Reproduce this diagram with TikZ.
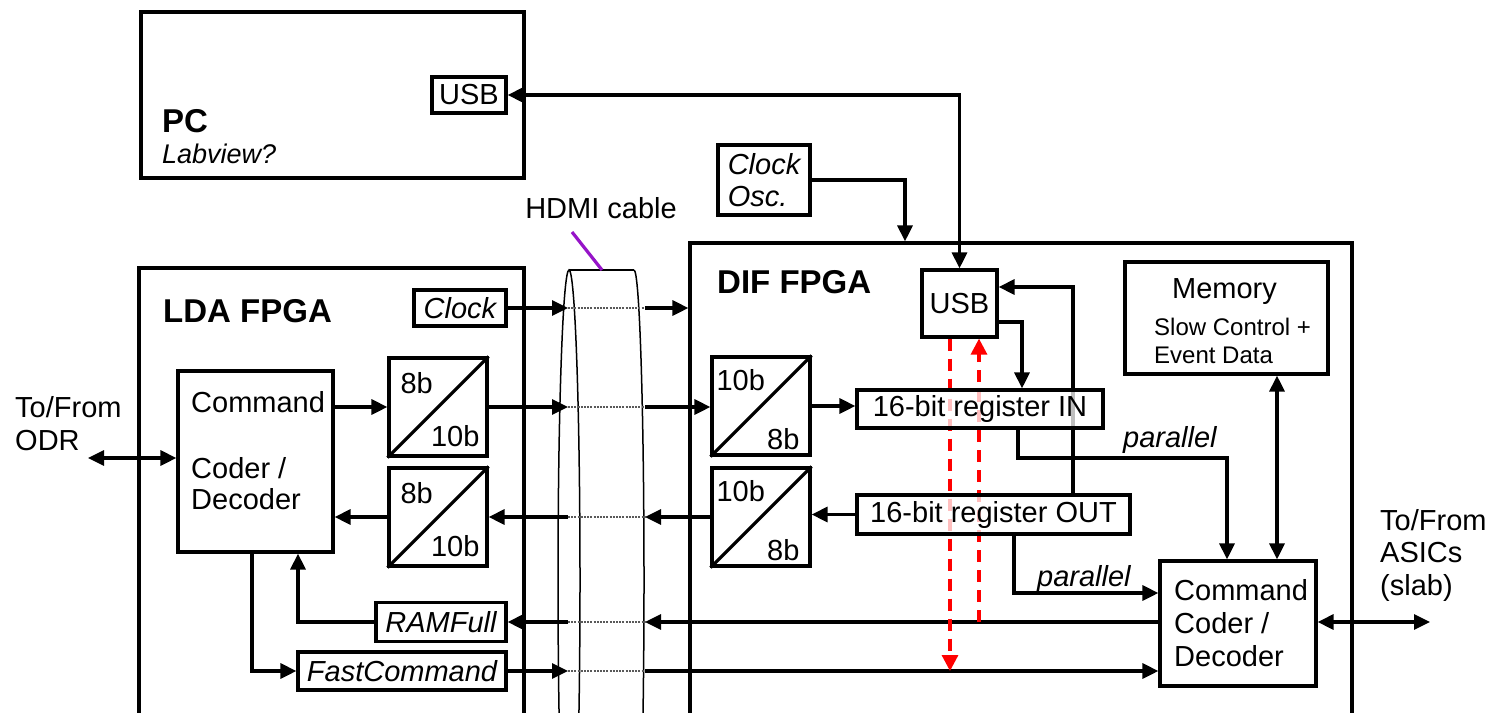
\documentclass[tikz,border=0pt]{standalone}
\usepackage{fontspec}
\setmainfont{Liberation Sans}
\usetikzlibrary{arrows.meta}
\pgfdeclarelayer{bg}
\pgfsetlayers{bg,main}
\definecolor{hdmi}{RGB}{150,20,200}
\begin{document}
\begin{tikzpicture}[x=1pt,y=-1pt,
  every node/.style={inner sep=0pt},
  txt/.style={font=\fontsize{29}{32}\selectfont},
  itx/.style={font=\fontsize{29}{32}\selectfont\itshape},
  hd/.style={font=\fontsize{33}{36}\selectfont\bfseries},
  sm/.style={font=\fontsize{24}{28}\selectfont},
  bigframe/.style={draw, line width=3.2pt},
  blk/.style={draw, line width=3.2pt, fill=white, fill opacity=0.75, text opacity=1, draw opacity=1, txt},
  wln/.style={line width=3.2pt},
  arr/.style={wln, -{Triangle[length=16pt,width=15pt]}},
  darr/.style={wln, {Triangle[length=16pt,width=15pt]}-{Triangle[length=16pt,width=15pt]}},
  dotln/.style={line width=2.2pt, black!65, dash pattern=on 2pt off 1.2pt},
  cabln/.style={line width=1.5pt},
  reddash/.style={line width=3.2pt, red, dash pattern=on 12pt off 8pt, -{Triangle[length=16pt,width=16pt]}},
]
\useasboundingbox (0,0) rectangle (1490,712);
\clip (0,0) rectangle (1490,712);

% ---- frames
\node[bigframe, minimum width=383pt, minimum height=166pt] (pc) at (332.5,95) {};
\node[bigframe, minimum width=385pt, minimum height=492pt] (lda) at (331.5,514) {};
\node[bigframe, minimum width=662pt, minimum height=517pt] (dif) at (1021,501.5) {};

% ---- boxes
\node[blk, minimum width=74pt, minimum height=36pt] (pcusb) at (469,95) {USB};
\node[blk, itx, align=left, minimum width=92pt, minimum height=70pt] (osc) at (764,180) {Clock\\Osc.};
\node[blk, itx, minimum width=92pt, minimum height=36pt] (clkL) at (460,308) {Clock};
\node[blk, minimum width=155pt, minimum height=181pt] (cmdL) at (255.5,461.5) {};
\node[blk, minimum width=98pt, minimum height=98pt] (b1L) at (438,407) {};
\node[blk, minimum width=98pt, minimum height=98pt] (b2L) at (438,517) {};
\node[blk, minimum width=98pt, minimum height=98pt] (b1D) at (761,406) {};
\node[blk, minimum width=98pt, minimum height=98pt] (b2D) at (761,517) {};
\node[blk, minimum width=246pt, minimum height=38pt] (regin) at (980,409) {16-bit register IN};
\node[blk, minimum width=273pt, minimum height=39pt] (regout) at (993.5,514.5) {16-bit register OUT};
\node[blk, minimum width=75pt, minimum height=67pt] (usbD) at (959.5,303.5) {USB};
\node[blk, minimum width=203pt, minimum height=112pt] (mem) at (1226.5,318) {};
\node[blk, minimum width=156pt, minimum height=125pt] (cmdD) at (1238,623.5) {};
\node[blk, itx, minimum width=130pt, minimum height=39pt] (ram) at (441,622) {RAMFull};
\node[blk, itx, minimum width=208pt, minimum height=38pt] (fast) at (402,671) {FastCommand};

% ---- converter diagonals and labels
\foreach \b in {b1L,b2L,b1D,b2D} {\draw[wln] (\b.south west) -- (\b.north east);}
\node[txt, anchor=base west] (b1Lt) at ([xshift=13pt,yshift=-37pt]b1L.north west) {8b};
\node[txt, anchor=base east] (b1Lb) at ([xshift=-9pt,yshift=11pt]b1L.south east) {10b};
\node[txt, anchor=base west] (b2Lt) at ([xshift=13pt,yshift=-37pt]b2L.north west) {8b};
\node[txt, anchor=base east] (b2Lb) at ([xshift=-9pt,yshift=11pt]b2L.south east) {10b};
\node[txt, anchor=base west] (b1Dt) at ([xshift=6pt,yshift=-35pt]b1D.north west) {10b};
\node[txt, anchor=base east] (b1Db) at ([xshift=-12pt,yshift=7pt]b1D.south east) {8b};
\node[txt, anchor=base west] (b2Dt) at ([xshift=6pt,yshift=-35pt]b2D.north west) {10b};
\node[txt, anchor=base east] (b2Db) at ([xshift=-12pt,yshift=7pt]b2D.south east) {8b};

% ---- texts
\node[hd, anchor=base west] (pct) at (162,132) {PC};
\node[itx, font=\fontsize{27}{30}\selectfont\itshape, anchor=base west] (labv) at (162,163) {Labview?};
\node[hd, anchor=base west] (ldat) at (163,322) {LDA FPGA};
\node[hd, anchor=base west] (dift) at (717,293) {DIF FPGA};
\node[txt, anchor=base] (hdmil) at (601,218) {HDMI cable};
\node[txt, anchor=base west] (cl1) at (191,412) {Command};
\node[txt, anchor=base west] (cl2) at (191,478) {Coder /};
\node[txt, anchor=base west] (cl3) at (191,509) {Decoder};
\node[txt, anchor=base west] (cd1) at (1174,600) {Command};
\node[txt, anchor=base west] (cd2) at (1174,633) {Coder /};
\node[txt, anchor=base west] (cd3) at (1174,666) {Decoder};
\node[txt, anchor=base] (mt1) at (1224.5,298) {Memory};
\node[sm, anchor=base west] (mt2) at (1154,335) {Slow Control +};
\node[sm, anchor=base west] (mt3) at (1154,363) {Event Data};
\node[txt, anchor=base west] (odr1) at (15,417) {To/From};
\node[txt, anchor=base west] (odr2) at (15,450) {ODR};
\node[txt, anchor=base west] (as1) at (1380,530) {To/From};
\node[txt, anchor=base west] (as2) at (1380,562) {ASICs};
\node[txt, anchor=base west] (as3) at (1380,595) {(slab)};
\node[itx, anchor=base west] (par1t) at (1123,447) {parallel};
\node[itx, anchor=base west] (par2t) at (1037,586) {parallel};

% ---- coordinates
\coordinate (cabL) at (568,0);
\coordinate (cabR) at (645,0);
\coordinate (odr) at (88,458);
\coordinate (asic) at (1430,622);
\coordinate (par1) at (1227,458);
\coordinate (fbT) at ([xshift=79.5pt]regout.north);
\coordinate (rdA) at ([xshift=-9.5pt]usbD.south);
\coordinate (rdB) at ([xshift=19.5pt]usbD.south);
\coordinate (hdA) at (572,232);
\coordinate (hdB) at (602,270);

\begin{pgfonlayer}{bg}
% cable
\draw[cabln] (569,580) ellipse [x radius=11pt, y radius=310pt];
\draw[cabln] (569,270) -- (634,270);
\draw[cabln] (634,270) arc[start angle=90, end angle=-90, x radius=10pt, y radius=310pt];
\draw[line width=3.2pt, hdmi] (hdA) -- (hdB);

% LDA <-> DIF through cable
\draw[arr] (clkL.east) -- (clkL.east -| cabL);
\draw[dotln] (clkL.east -| cabL) -- (clkL.east -| cabR);
\draw[arr] (clkL.east -| cabR) -- (clkL.east -| dif.west);

\draw[arr] (b1L.east) -- (b1L.east -| cabL);
\draw[dotln] (b1L.east -| cabL) -- (b1L.east -| cabR);
\draw[arr] (b1L.east -| cabR) -- (b1L.east -| b1D.west);

\draw[arr] (b2D.west) -- (b2D.west -| cabR);
\draw[dotln] (b2D.west -| cabL) -- (b2D.west -| cabR);
\draw[arr] (b2D.west -| cabL) -- (b2L.east);

\draw[arr] (cmdD.west |- ram.east) -- (ram.east -| cabR);
\draw[dotln] (ram.east -| cabL) -- (ram.east -| cabR);
\draw[arr] (ram.east -| cabL) -- (ram.east);

\draw[arr] (fast.east) -- (fast.east -| cabL);
\draw[dotln] (fast.east -| cabL) -- (fast.east -| cabR);
\draw[arr] (fast.east -| cabR) -- (fast.east -| cmdD.west);

% LDA internal
\draw[darr] (odr) -- (odr -| cmdL.west);
\draw[arr] (cmdL.east |- b1L.west) -- (b1L.west);
\draw[arr] (b2L.west) -- (b2L.west -| cmdL.east);
\draw[arr] (ram.west) -| ([xshift=42.5pt]cmdL.south);
\draw[arr] ([xshift=-3.5pt]cmdL.south) |- (fast.west);

% PC / clock
\draw[darr] (pcusb.east) -| (usbD.north);
\draw[arr] (osc.east) -| ([xshift=-116pt]dif.north);

% DIF internal
\draw[arr] (b1D.east) -- (b1D.east -| regin.west);
\draw[arr] (regout.west) -- (regout.west -| b2D.east);
\draw[arr] ([yshift=-18.5pt]usbD.east) -| ([xshift=42pt]regin.north);
\draw[arr] (fbT) |- ([yshift=16.5pt]usbD.east);
\draw[arr] ([xshift=38pt]regin.south) |- (par1) -- (par1 |- cmdD.north);
\draw[arr] ([xshift=20.5pt]regout.south) |- ([yshift=30.5pt]cmdD.west);
\draw[darr] ([xshift=50.5pt]mem.south) -- ([xshift=39pt]cmdD.north);
\draw[darr] (cmdD.east |- asic) -- (asic);

% red dashed
\draw[reddash] (rdA) -- (rdA |- fast.east);
\draw[reddash] (rdB |- ram.east) -- (rdB);
\end{pgfonlayer}
\end{tikzpicture}
\end{document}
